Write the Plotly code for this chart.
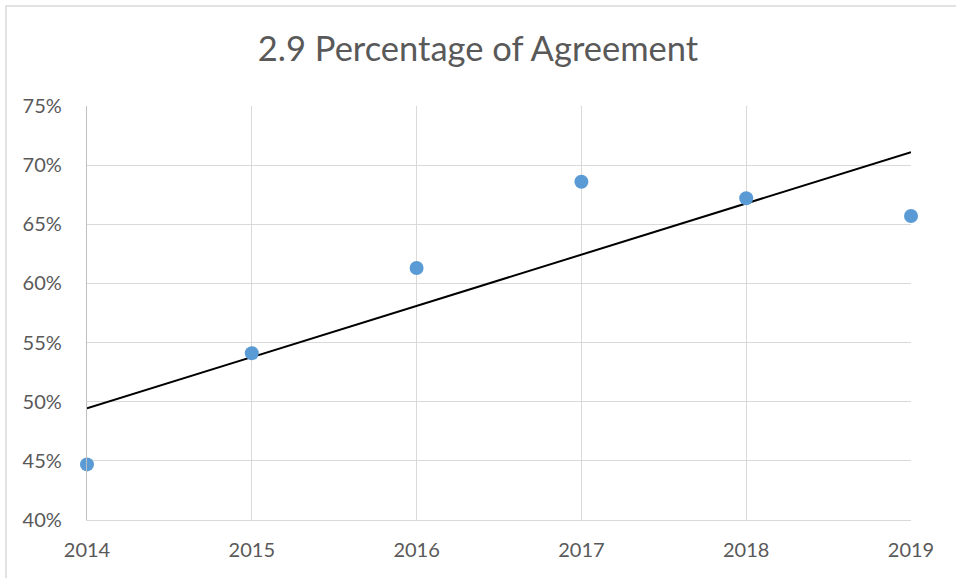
import numpy as np
import plotly.graph_objects as go

years = [2014, 2015, 2016, 2017, 2018, 2019]
agreement = [0.447, 0.541, 0.613, 0.686, 0.672, 0.657]
y_ticks = [0.40, 0.45, 0.50, 0.55, 0.60, 0.65, 0.70, 0.75]
y_tick_labels = ["40%", "45%", "50%", "55%", "60%", "65%", "70%", "75%"]

slope, intercept = np.polyfit(years, agreement, 1)
trend_x = [years[0], years[-1]]
trend_y = [slope * x + intercept for x in trend_x]

W, H = 956, 578
L, R, T, B = 87, 45, 106, 58
pw, ph = W - L - R, H - T - B
FONT = "Lato"

fig = go.Figure()
fig.add_trace(go.Scatter(x=trend_x, y=trend_y, mode="lines",
                         line=dict(color="black", width=2), hoverinfo="skip",
                         showlegend=False, cliponaxis=False))
fig.add_trace(go.Scatter(x=years, y=agreement, mode="markers",
                         marker=dict(color="#5b9bd5", size=14),
                         showlegend=False, cliponaxis=False))

fig.update_layout(
    width=W, height=H,
    margin=dict(l=L, r=R, t=T, b=B),
    paper_bgcolor="white", plot_bgcolor="white",
    font=dict(family=FONT, color="#595959"),
    title=dict(text="2.9 Percentage of Agreement", x=0.5, xanchor="center",
               y=1 - 49 / H, yanchor="middle",
               font=dict(size=34.5, color="#595959", family=FONT)),
    xaxis=dict(range=[2014, 2019], tickmode="array", tickvals=years,
               ticktext=[str(y) for y in years], showgrid=True,
               gridcolor="#d9d9d9", gridwidth=1.3, zeroline=False,
               showline=True, linecolor="#d9d9d9", linewidth=1.3,
               ticks="", ticklabelstandoff=12,
               tickfont=dict(size=20, color="#595959")),
    yaxis=dict(range=[0.40, 0.75], tickmode="array", tickvals=y_ticks,
               ticktext=y_tick_labels, showgrid=True, gridcolor="#d9d9d9",
               gridwidth=1.3, zeroline=False, showline=True,
               linecolor="#bfbfbf", linewidth=1.3, ticks="",
               ticklabelstandoff=20,
               tickfont=dict(size=20, color="#595959")),
    shapes=[dict(type="rect", xref="paper", yref="paper",
                 x0=(6 - L) / pw, x1=(W + 10 - L) / pw,
                 y0=-(B + 10) / ph, y1=1 + (T - 6) / ph,
                 line=dict(color="#d9d9d9", width=1.5),
                 fillcolor="rgba(0,0,0,0)", layer="below")],
)

fig.write_html("out.html", config={"displayModeBar": False},
               post_script="document.body.style.margin='0';document.body.style.overflow='hidden';")
